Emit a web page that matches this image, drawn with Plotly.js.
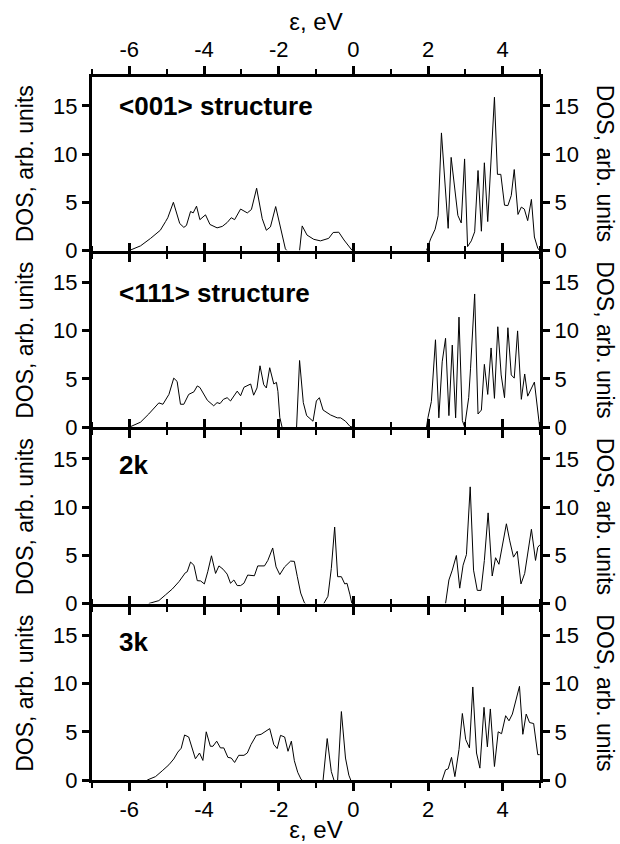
<!DOCTYPE html>
<html><head><meta charset="utf-8">
<script src="https://cdn.plot.ly/plotly-3.0.1.min.js"></script>
<style>html,body{margin:0;padding:0;background:#fff}#chart{width:620px;height:844px}</style>
</head><body><div id="chart"></div>
<script>
// Panel labels and axis text
const panelLabels = ["&lt;001&gt; structure", "&lt;111&gt; structure", "2k", "3k"];
const xTitle = "ε, eV";
const yTitle = "DOS, arb. units";
const xTickVals = [-6, -4, -2, 0, 2, 4];
const xTickText = ["-6", "-4", "-2", "0", "2", "4"];
const yTickVals = [0, 5, 10, 15];

// <001> structure (null = band gap, DOS is zero there)
const e001 = [-6.0,-5.7,-5.43,-5.17,-5.03,-4.97,-4.82,-4.65,-4.54,-4.47,-4.36,-4.29,-4.2,-4.11,-3.96,-3.84,-3.65,-3.51,-3.38,-3.27,-3.18,-3.02,-2.84,-2.73,-2.59,-2.44,-2.33,-2.22,-2.08,-1.98,-1.82,-1.78,null,-1.44,-1.37,-1.24,-1.06,-0.88,-0.66,-0.54,-0.39,-0.25,-0.075,-0.03,null,
  1.96,2.07,2.19,2.27,2.36,2.54,2.62,2.71,2.8,2.89,2.98,3.06,3.16,3.25,3.34,3.43,3.51,3.6,3.78,3.86,3.95,4.05,4.14,4.23,4.31,4.41,4.5,4.58,4.67,4.77,4.85,4.94,4.99];
const d001 = [0,0.48,1.26,2.1,3.0,3.4,5.0,2.8,2.4,2.6,4.05,3.9,4.6,3.2,3.7,2.7,2.35,2.5,2.9,3.4,3.2,4.3,3.9,4.25,6.46,3.3,2.1,2.45,4.56,2.96,0.17,0,null,0,2.55,1.6,1.16,1.0,1.26,1.87,1.9,1.09,0.17,0,null,
  0,1.2,2.2,3.6,12.2,2.3,9.66,6.7,3.64,2.86,9.5,0.4,1.0,1.94,8.3,2.0,9.1,3.0,15.9,7.9,7.9,4.7,4.66,5.7,8.4,3.74,4.5,4.3,3.1,5.3,1.4,0.24,0];

// <111> structure
const e111 = [-5.99,-5.7,-5.48,-5.21,-5.1,-4.94,-4.81,-4.72,-4.63,-4.54,-4.41,-4.27,-4.18,-4.11,-3.91,-3.74,-3.65,-3.57,-3.48,-3.38,-3.29,-3.11,-3.02,-2.93,-2.75,-2.67,-2.58,-2.5,-2.4,-2.33,-2.24,-2.13,-2.06,-2.02,-1.97,-1.91,null,-1.52,-1.44,-1.34,-1.25,-1.08,-0.99,-0.91,-0.81,-0.61,-0.43,-0.34,-0.21,-0.09,-0.03,null,
  1.96,2.0,2.09,2.2,2.29,2.38,2.47,2.56,2.65,2.74,2.83,2.92,2.98,3.09,3.14,3.25,3.34,3.43,3.51,3.6,3.69,3.78,3.87,3.96,4.05,4.14,4.23,4.31,4.4,4.5,4.59,4.67,4.85,4.99];
const d111 = [0,0.5,1.35,2.5,2.36,3.38,5.07,4.73,2.36,2.36,3.38,3.65,4.26,4.1,2.77,2.2,2.53,2.43,2.87,3.04,2.7,3.72,3.24,4.12,4.46,3.3,4.05,6.35,4.39,4.05,6.15,4.46,4.63,3.7,1.0,0,null,0,6.9,2.53,1.18,0.6,2.7,3.04,1.76,1.25,0.95,0.95,0.6,0.07,0,null,
  0,1.0,2.64,9.05,0.95,6.76,9.2,1.18,8.5,0.95,11.4,0.68,0,3.04,6.1,13.8,1.35,1.76,6.5,3.38,8.2,2.97,10.4,5.4,3.04,10.3,5.4,5.07,9.97,2.87,5.5,3.2,4.66,0];

// 2k
const e2k = [-5.48,-5.21,-5.03,-4.85,-4.67,-4.5,-4.45,-4.36,-4.27,-4.18,-4.09,-3.99,-3.9,-3.8,-3.69,-3.6,-3.49,-3.38,-3.29,-3.2,-3.11,-3.02,-2.93,-2.83,-2.65,-2.56,-2.38,-2.29,-2.16,-2.07,-1.97,-1.84,-1.68,-1.58,-1.5,-1.41,-1.31,-1.28,null,-0.79,-0.68,-0.59,-0.5,-0.42,-0.32,-0.23,-0.17,-0.09,-0.04,null,
  2.47,2.56,2.65,2.76,2.85,2.94,3.03,3.13,3.22,3.32,3.42,3.51,3.61,3.72,3.81,3.9,4.0,4.1,4.19,4.29,4.39,4.49,4.59,4.69,4.77,4.88,4.94,5.0];
const d2k = [0,0.3,0.9,1.5,2.27,3.19,3.29,4.3,3.97,2.37,2.34,2.03,3.29,4.95,3.12,3.9,3.56,3.05,2.1,2.44,1.86,1.86,2.1,2.95,2.88,3.9,3.9,4.47,5.76,3.8,3.0,3.8,4.4,4.37,2.78,1.08,0.07,0,null,0,0.75,3.63,7.93,2.78,2.78,2.03,2.1,0.9,0,null,
  0,2.44,3.46,4.98,1.59,3.97,5.08,12.1,3.46,1.36,1.36,4.47,9.4,2.85,4.75,4.07,6.17,8.27,6.5,4.81,5.42,2.03,3.12,5.5,7.7,4.47,5.83,6.1];

// 3k
const e3k = [-5.52,-5.3,-5.12,-4.94,-4.81,-4.7,-4.61,-4.52,-4.41,-4.32,-4.23,-4.12,-4.03,-3.94,-3.83,-3.76,-3.66,-3.56,-3.47,-3.36,-3.27,-3.18,-3.07,-2.93,-2.84,-2.74,-2.6,-2.47,-2.38,-2.24,-2.13,-2.04,-1.95,-1.84,-1.75,-1.66,-1.58,-1.49,-1.4,-1.37,null,-0.81,-0.7,-0.59,-0.52,null,-0.42,-0.32,-0.21,-0.12,-0.07,null,
  2.38,2.47,2.54,2.63,2.72,2.83,2.92,3.01,3.11,3.2,3.3,3.39,3.5,3.59,3.67,3.78,3.88,3.97,4.08,4.17,4.26,4.35,4.45,4.54,4.63,4.72,4.83,4.94,4.99];
const d3k = [0,0.35,0.95,1.58,2.18,2.9,3.3,4.67,4.46,3.33,2.2,2.8,2.03,5.0,3.5,3.5,4.03,3.33,3.33,2.35,2.28,1.82,2.56,2.56,2.8,3.68,4.63,4.74,5.0,5.33,3.68,3.26,4.63,4.46,2.98,4.03,2.0,0.8,0.07,0,null,0,4.3,0.88,0,null,0,7.1,2.28,0.5,0,null,
  0,1.05,1.16,2.35,0.35,3.16,6.9,4.2,3.33,9.65,2.8,1.23,7.54,3.44,7.37,1.4,5.0,4.8,6.67,6.14,6.84,8.25,9.72,4.74,6.84,5.96,5.86,2.63,2.63];

const energies = [e001, e111, e2k, e3k];
const dos = [d001, d111, d2k, d3k];

const FONT = "Liberation Sans, Arial, sans-serif";
// 4 panels of 173.5 px with 3 px gaps so neighbouring frame lines coincide (total 703 px)
const H = 703, P = 173.5, G = 3;
const domains = [0, 1, 2, 3].map(k => {
  const lo = (3 - k) * (P + G);
  return [lo / H, (lo + P) / H];
});
const traces = [];
const layout = {
  width: 620, height: 844,
  margin: {l: 92, r: 80, t: 77, b: 64},
  paper_bgcolor: "#fff", plot_bgcolor: "#fff",
  showlegend: false,
  font: {family: FONT, color: "#000", size: 20},
  annotations: []
};

for (let i = 0; i < 4; i++) {
  const xs = i === 0 ? "" : String(i + 1);
  const ysL = i === 0 ? "" : String(i + 1);
  const ysR = String(i + 5);
  traces.push({x: energies[i], y: dos[i], xaxis: "x" + xs, yaxis: "y" + ysL,
    mode: "lines", connectgaps: false, line: {color: "#000", width: 1}, hoverinfo: "skip"});
  traces.push({x: energies[i], y: dos[i], xaxis: "x" + xs, yaxis: "y" + ysR,
    mode: "lines", connectgaps: false, line: {color: "rgba(0,0,0,0)", width: 0}, hoverinfo: "skip"});

  const xa = {
    range: [-7, 5], tickvals: xTickVals, ticktext: xTickText, anchor: "y" + ysL,
    showline: true, linewidth: 3, linecolor: "#000", mirror: "ticks",
    ticks: "outside", ticklen: 8, tickwidth: 3, tickcolor: "#000",
    minor: {dtick: 1, tick0: 0, ticks: "outside", ticklen: 5, tickwidth: 2, tickcolor: "#000", showgrid: false},
    showgrid: false, zeroline: false, fixedrange: true,
    tickfont: {family: FONT, size: 22, color: "#000"},
    showticklabels: (i === 0 || i === 3)
  };
  if (i === 0) {
    xa.side = "top";
    xa.title = {text: xTitle, font: {family: FONT, size: 24, color: "#000"}, standoff: 0};
  }
  if (i === 3) {
    xa.title = {text: xTitle, font: {family: FONT, size: 24, color: "#000"}, standoff: 0};
  }
  layout["xaxis" + xs] = xa;

  const yBase = {
    range: [0, 18], tickvals: yTickVals, domain: domains[i],
    showline: true, linewidth: 3, linecolor: "#000",
    ticks: "outside", ticklen: 7, tickwidth: 3, tickcolor: "#000",
    showgrid: false, zeroline: false, fixedrange: true,
    tickfont: {family: FONT, size: 22, color: "#000"}
  };
  layout["yaxis" + ysL] = Object.assign({}, yBase, {
    anchor: "x" + xs, side: "left",
    title: {text: yTitle, font: {family: FONT, size: 23, color: "#000"}, standoff: 14}
  });
  layout["yaxis" + ysR] = Object.assign({}, yBase, {
    anchor: "x" + xs, side: "right", overlaying: "y" + ysL
  });

  layout.annotations.push({
    text: "<b>" + panelLabels[i] + "</b>", xref: "x" + xs, yref: "y" + ysL,
    x: -6.32, y: [15.0, 13.9, 14.4, 14.3][i], xanchor: "left", yanchor: "middle",
    showarrow: false, font: {family: FONT, size: 26, color: "#000"}
  });
  layout.annotations.push({
    text: yTitle, xref: "paper", yref: "paper",
    x: 1.145, y: (domains[i][0] + domains[i][1]) / 2, xanchor: "center", yanchor: "middle",
    textangle: 90, showarrow: false, font: {family: FONT, size: 23, color: "#000"}
  });
}

Plotly.newPlot("chart", traces, layout, {displayModeBar: false, staticPlot: true});
</script></body></html>
